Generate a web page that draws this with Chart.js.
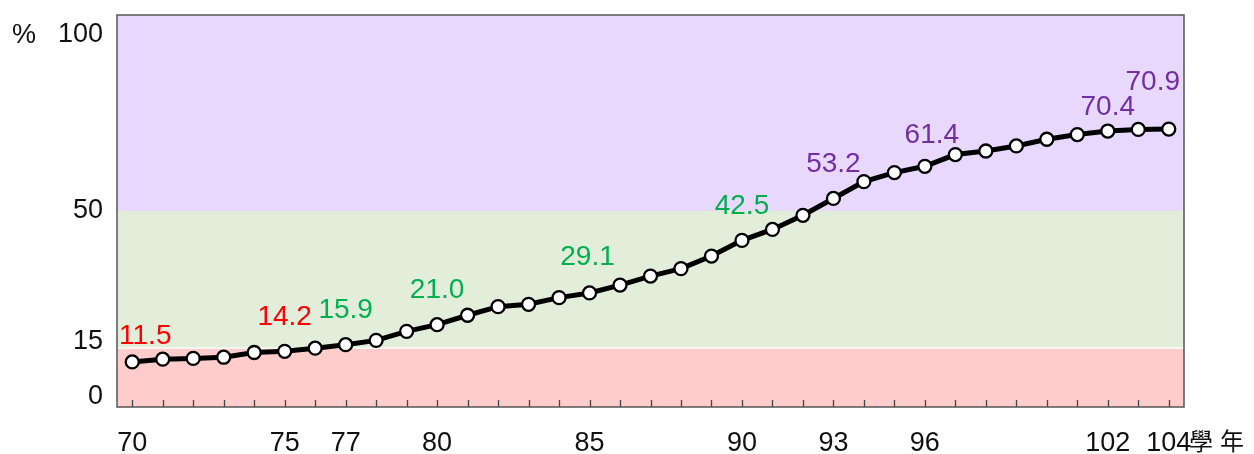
<!DOCTYPE html>
<html>
<head>
<meta charset="utf-8">
<script src="https://cdn.jsdelivr.net/npm/chart.js@4"></script>
<style>
  html, body { margin: 0; padding: 0; background: #fff; }
  #wrap { width: 1254px; height: 454px; }
</style>
</head>
<body>
<div id="wrap"><canvas id="rateChart" width="1254" height="454"></canvas></div>
<script>
// school years (民國 學年) and rate in %
const years = [70, 71, 72, 73, 74, 75, 76, 77, 78, 79,
               80, 81, 82, 83, 84, 85, 86, 87, 88, 89,
               90, 91, 92, 93, 94, 95, 96, 97, 98, 99,
               100, 101, 102, 103, 104];
const rates = [11.5, 12.2, 12.4, 12.7, 13.9, 14.2, 15.0, 15.9, 17.0, 19.3,
               21.0, 23.4, 25.6, 26.2, 27.9, 29.1, 31.1, 33.4, 35.3, 38.5,
               42.5, 45.3, 48.9, 53.2, 57.5, 59.8, 61.4, 64.4, 65.3, 66.6,
               68.3, 69.5, 70.4, 70.8, 70.9];

const shownYears = [70, 75, 77, 80, 85, 90, 93, 96, 102, 104];
const labeledYears = [70, 75, 77, 80, 85, 90, 93, 96, 102, 104];
const yTicks = [0, 15, 50, 100];
const bands = [0, 15, 50, 100];

const FONT = "'Liberation Sans', Arial, sans-serif";
const bandColors = ['#ffcccc', '#e2eed9', '#e9d8fe'];
const textColors = ['#ff0000', '#00b050', '#7030a0'];

// label placement relative to point (px)
const labelNudge = {70: [13, -26], 96: [7, -31], 102: [0, -24], 104: [-16, -47], 85: [-2, -36]};
// vertical shift of y tick labels (line-height trick)
const yLabelShift = {0: -10.5, 15: -6.5, 50: 0, 100: 20};

const bandIndex = v => v < 15 ? 0 : (v < 50 ? 1 : 2);

const decor = {
    id: 'decor',
    beforeDatasetsDraw(chart) {
        const {ctx, chartArea: a, scales: {x, y}} = chart;
        ctx.save();
        for (let i = 0; i < bands.length - 1; i++) {
            const top = y.getPixelForValue(bands[i + 1]);
            const bot = y.getPixelForValue(bands[i]);
            ctx.fillStyle = bandColors[i];
            ctx.fillRect(a.left, top, a.right - a.left, bot - top);
        }
        // thin white line at 15
        ctx.strokeStyle = '#ffffff';
        ctx.lineWidth = 1.2;
        ctx.beginPath();
        const y15 = y.getPixelForValue(15);
        ctx.moveTo(a.left, y15);
        ctx.lineTo(a.right, y15);
        ctx.stroke();
        // inner tick marks
        ctx.strokeStyle = '#444';
        ctx.lineWidth = 1.3;
        ctx.beginPath();
        years.forEach((yr, i) => {
            const px = Math.round(x.getPixelForValue(i)) + 0.5;
            ctx.moveTo(px, a.bottom);
            ctx.lineTo(px, a.bottom - 7);
        });
        ctx.stroke();
        ctx.restore();
    },
    afterDraw(chart) {
        const {ctx, chartArea: a, scales: {x, y}} = chart;
        ctx.save();
        ctx.strokeStyle = '#555';
        ctx.lineWidth = 1.5;
        ctx.strokeRect(a.left, a.top, a.right - a.left, a.bottom - a.top);

        // value labels
        ctx.font = '28px ' + FONT;
        ctx.textAlign = 'center';
        ctx.textBaseline = 'middle';
        labeledYears.forEach(yr => {
            const i = years.indexOf(yr);
            const v = rates[i];
            const n = labelNudge[yr] || [0, -34];
            ctx.fillStyle = textColors[bandIndex(v)];
            ctx.fillText(v.toFixed(1), x.getPixelForValue(i) + n[0], y.getPixelForValue(v) + n[1]);
        });

        // unit texts
        ctx.font = '27px ' + FONT;
        ctx.fillStyle = '#111';
        ctx.fillText('%', 24, 36);
        ctx.font = "24px 'Noto Sans CJK TC', sans-serif";
        ctx.textAlign = 'left';
        ctx.fillText('學', 1189, 441);
        ctx.fillText('年', 1220, 441);
        ctx.restore();
    }
};

const ctx = document.getElementById('rateChart').getContext('2d');
new Chart(ctx, {
    type: 'line',
    data: {
        labels: years.map(String),
        datasets: [{
            data: rates,
            borderColor: '#000',
            borderWidth: 5,
            pointRadius: 6.5,
            pointBorderWidth: 2.3,
            pointBackgroundColor: '#fff',
            pointBorderColor: '#000',
            tension: 0,
            fill: false
        }]
    },
    options: {
        responsive: false,
        animation: false,
        events: [],
        layout: { padding: { top: 15, right: 70, left: 0, bottom: 0 } },
        plugins: { legend: { display: false }, tooltip: { enabled: false } },
        scales: {
            x: {
                offset: true,
                grid: { display: false },
                border: { display: false },
                afterFit(scale) {
                    scale.height = 47;
                    scale.paddingLeft = 0;
                    scale.paddingRight = 0;
                },
                ticks: {
                    autoSkip: false,
                    maxRotation: 0,
                    padding: 12,
                    color: '#111',
                    font: { family: FONT, size: 27 },
                    callback(val, i) {
                        return shownYears.includes(years[i]) ? String(years[i]) : '';
                    }
                }
            },
            y: {
                min: 0,
                max: 100,
                grid: { display: false },
                border: { display: false },
                afterFit(scale) {
                    scale.width = 117;
                    scale.paddingTop = 0;
                    scale.paddingBottom = 0;
                },
                afterBuildTicks(scale) { scale.ticks = yTicks.map(v => ({ value: v })); },
                ticks: {
                    padding: 6,
                    color: '#111',
                    font(c) {
                        const s = Math.abs(yLabelShift[c.tick && c.tick.value] || 0);
                        return { family: FONT, size: 27, lineHeight: (s > 0 ? 2 * s : 32) + 'px' };
                    },
                    callback(v) {
                        const s = yLabelShift[v] || 0;
                        if (s > 0) return ['', String(v)];
                        if (s < 0) return [String(v), ''];
                        return String(v);
                    }
                }
            }
        }
    },
    plugins: [decor]
});
</script>
</body>
</html>
